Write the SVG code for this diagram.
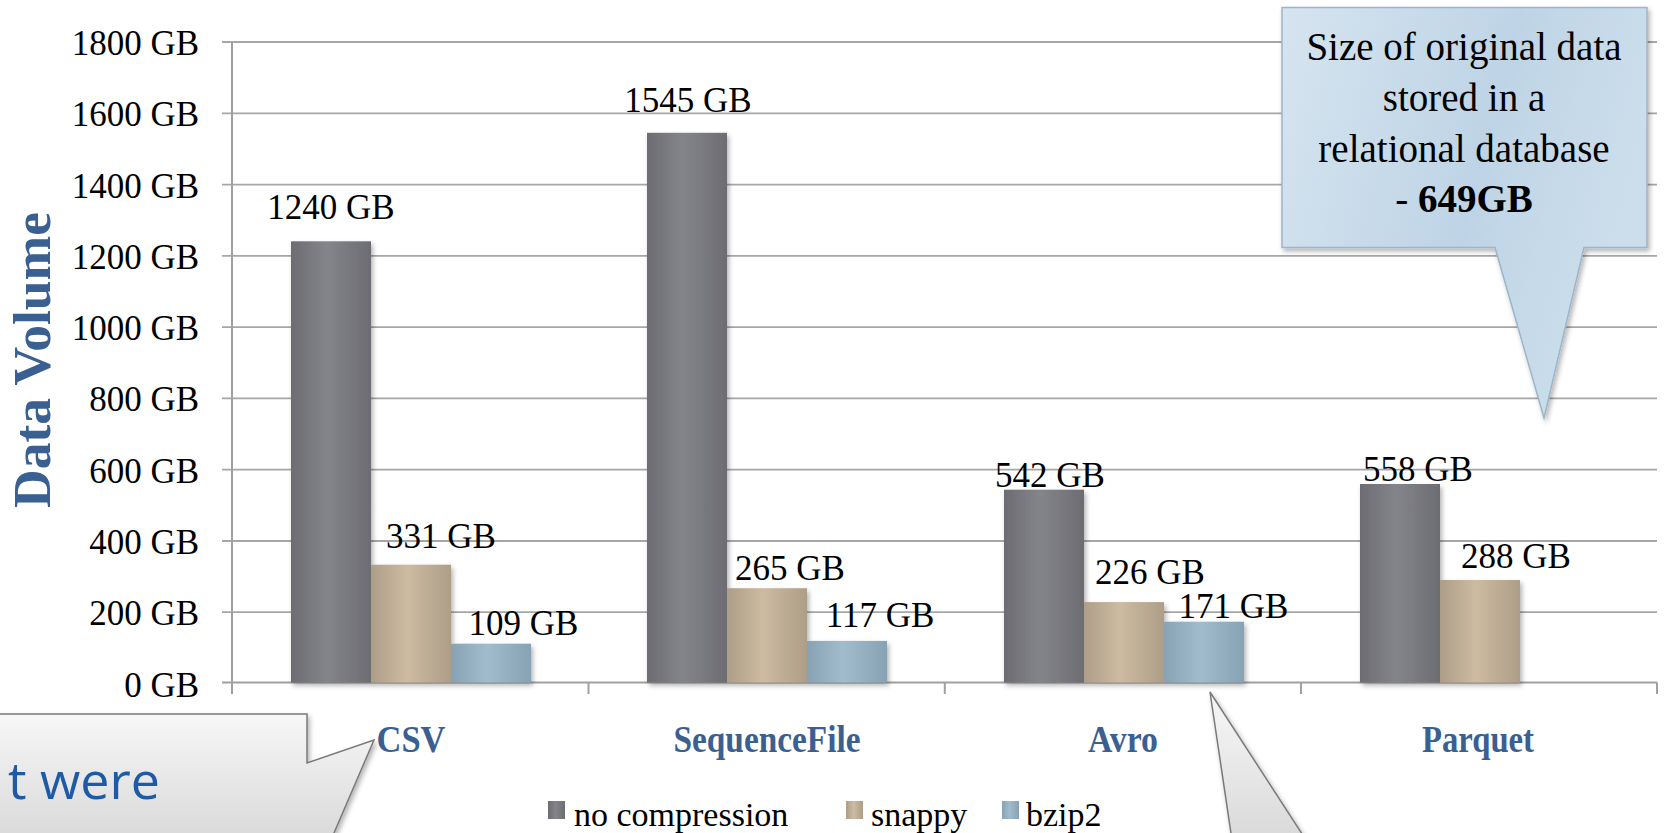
<svg xmlns="http://www.w3.org/2000/svg" width="1665" height="833" viewBox="0 0 1665 833">
<defs>
<linearGradient id="gNo" x1="0" y1="0" x2="1" y2="0"><stop offset="0" stop-color="#6c6c72"/><stop offset="0.45" stop-color="#84858a"/><stop offset="1" stop-color="#6c6c72"/></linearGradient>
<linearGradient id="gSn" x1="0" y1="0" x2="1" y2="0"><stop offset="0" stop-color="#ad9e88"/><stop offset="0.45" stop-color="#cdbba1"/><stop offset="1" stop-color="#ad9e88"/></linearGradient>
<linearGradient id="gBz" x1="0" y1="0" x2="1" y2="0"><stop offset="0" stop-color="#87a2b3"/><stop offset="0.45" stop-color="#a1bccd"/><stop offset="1" stop-color="#87a2b3"/></linearGradient>
<linearGradient id="gBlue" x1="0" y1="0" x2="1" y2="0.3"><stop offset="0" stop-color="#d6e4ef"/><stop offset="0.6" stop-color="#bed4e6"/><stop offset="1" stop-color="#ccdeeb"/></linearGradient>
<linearGradient id="gGray" x1="0" y1="0" x2="0" y2="1"><stop offset="0" stop-color="#f7f7f7"/><stop offset="1" stop-color="#d9d9d9"/></linearGradient>
<filter id="sh" x="-20%" y="-20%" width="140%" height="140%"><feDropShadow dx="2" dy="3" stdDeviation="2.5" flood-color="#000" flood-opacity="0.3"/></filter>
<filter id="shs" x="-5%" y="-20%" width="110%" height="200%"><feDropShadow dx="2" dy="4" stdDeviation="2" flood-color="#000" flood-opacity="0.35"/></filter>
</defs>
<style>
.grid{stroke:#a6a6a6;stroke-width:1.8;fill:none}
.ax{stroke:#a0a0a0;stroke-width:2;fill:none}
.yl{font-family:"Liberation Serif",serif;font-size:35px;fill:#000;text-anchor:end}
.dl{font-family:"Liberation Serif",serif;font-size:35px;fill:#000;text-anchor:middle}
.cat{font-family:"Liberation Serif",serif;font-size:38px;font-weight:bold;fill:#3a6091;text-anchor:middle}
.lg{font-family:"Liberation Serif",serif;font-size:34px;fill:#000}
.ct{font-family:"Liberation Serif",serif;font-size:39px;fill:#000;text-anchor:middle}
.callg{fill:url(#gGray);stroke:#7a7a7a;stroke-width:1.5}
</style>
<rect width="1665" height="833" fill="#fff"/>
<g id="grid">
<path class="grid" d="M222 42H1657M222 113.3H1657M222 184.6H1657M222 255.9H1657M222 327.1H1657M222 398.4H1657M222 469.7H1657M222 541H1657M222 612.2H1657"/>
<path class="ax" d="M232 42V694M222 682.5H1657M588.5 682.5V694M944.8 682.5V694M1301 682.5V694M1657 682.5V694"/>
</g>
<g id="y-labels">
<text class="yl" x="199" y="55">1800 GB</text>
<text class="yl" x="199" y="126.3">1600 GB</text>
<text class="yl" x="199" y="197.6">1400 GB</text>
<text class="yl" x="199" y="268.9">1200 GB</text>
<text class="yl" x="199" y="340.1">1000 GB</text>
<text class="yl" x="199" y="411.4">800 GB</text>
<text class="yl" x="199" y="482.7">600 GB</text>
<text class="yl" x="199" y="554">400 GB</text>
<text class="yl" x="199" y="625.2">200 GB</text>
<text class="yl" x="199" y="696.5">0 GB</text>
</g>
<text id="y-title" transform="translate(50 360) rotate(-90)" font-family="Liberation Serif, serif" font-size="53" font-weight="bold" fill="#3a6091" text-anchor="middle" textLength="296" lengthAdjust="spacingAndGlyphs">Data Volume</text>
<g id="bars" filter="url(#sh)">
<rect x="291" y="241.3" width="80" height="441.2" fill="url(#gNo)"/>
<rect x="371" y="564.7" width="80" height="117.8" fill="url(#gSn)"/>
<rect x="451" y="643.7" width="80" height="38.8" fill="url(#gBz)"/>
<rect x="647" y="132.8" width="80" height="549.7" fill="url(#gNo)"/>
<rect x="727" y="588.2" width="80" height="94.3" fill="url(#gSn)"/>
<rect x="807" y="640.9" width="80" height="41.6" fill="url(#gBz)"/>
<rect x="1004" y="489.7" width="80" height="192.8" fill="url(#gNo)"/>
<rect x="1084" y="602.1" width="80" height="80.4" fill="url(#gSn)"/>
<rect x="1164" y="621.7" width="80" height="60.8" fill="url(#gBz)"/>
<rect x="1360" y="484" width="80" height="198.5" fill="url(#gNo)"/>
<rect x="1440" y="580" width="80" height="102.5" fill="url(#gSn)"/>
</g>
<g id="data-labels">
<text class="dl" x="331" y="219">1240 GB</text>
<text class="dl" x="441" y="548">331 GB</text>
<text class="dl" x="523.5" y="635">109 GB</text>
<text class="dl" x="688" y="112">1545 GB</text>
<text class="dl" x="790" y="580">265 GB</text>
<text class="dl" x="880" y="627">117 GB</text>
<text class="dl" x="1050" y="487">542 GB</text>
<text class="dl" x="1150" y="584">226 GB</text>
<text class="dl" x="1233.5" y="618">171 GB</text>
<text class="dl" x="1418" y="481">558 GB</text>
<text class="dl" x="1516" y="568">288 GB</text>
</g>
<g id="categories">
<text class="cat" x="411" y="752" textLength="69" lengthAdjust="spacingAndGlyphs">CSV</text>
<text class="cat" x="767" y="752" textLength="187" lengthAdjust="spacingAndGlyphs">SequenceFile</text>
<text class="cat" x="1123" y="752" textLength="70" lengthAdjust="spacingAndGlyphs">Avro</text>
<text class="cat" x="1478" y="752" textLength="112" lengthAdjust="spacingAndGlyphs">Parquet</text>
</g>
<g id="legend">
<rect x="548" y="801" width="17" height="18" fill="url(#gNo)"/>
<text class="lg" x="574" y="826">no compression</text>
<rect x="846" y="801" width="17" height="18" fill="url(#gSn)"/>
<text class="lg" x="871" y="826">snappy</text>
<rect x="1002" y="801" width="17" height="18" fill="url(#gBz)"/>
<text class="lg" x="1026" y="826">bzip2</text>
</g>
<g id="threshold">
<line x1="287.3" y1="440" x2="1652" y2="440" stroke="#ff7f00" stroke-width="11.7" stroke-dasharray="35.7 12.3" filter="url(#shs)"/>
</g>
<g id="callout-rdb">
<path d="M1282 7.5H1647V247.5H1584L1544 418L1495 247.5H1282Z" fill="url(#gBlue)" stroke="#9db5c9" stroke-width="1.5" filter="url(#sh)"/>
<text class="ct" x="1464" y="60">Size of original data</text>
<text class="ct" x="1464" y="110.5">stored in a</text>
<text class="ct" x="1464" y="161.5">relational database</text>
<text class="ct" x="1464" y="211.5">- <tspan font-weight="bold">649GB</tspan></text>
</g>
<g id="callout-left">
<path class="callg" d="M-10 714H307V763L374 740L331 840H-10Z" filter="url(#sh)"/>
<text x="160" y="799" font-family="Open Sans, sans-serif" font-size="52" fill="#1f5aa6" text-anchor="end">t were</text>
</g>
<g id="callout-right">
<path class="callg" d="M1210 692L1306 840H1232Z" filter="url(#sh)"/>
</g>
</svg>
